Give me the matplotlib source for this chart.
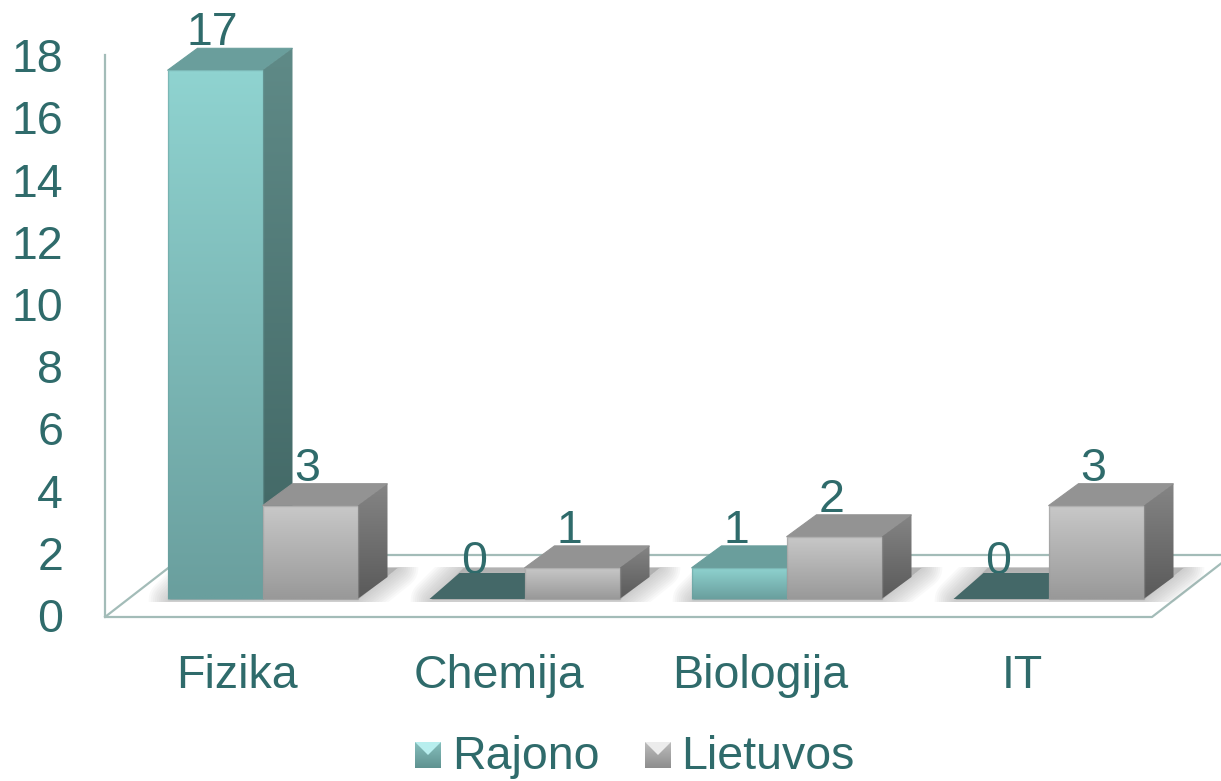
import numpy as np
import matplotlib
matplotlib.use('Agg')
import matplotlib.pyplot as plt
from matplotlib.patches import Polygon, Rectangle
from matplotlib.colors import to_rgb

plt.rcParams['font.family'] = ['Liberation Sans', 'DejaVu Sans']

kategorijos = ['Fizika', 'Chemija', 'Biologija', 'IT']
rajono = [17, 0, 1, 0]
lietuvos = [3, 1, 2, 3]
y_ticks = [0, 2, 4, 6, 8, 10, 12, 14, 16, 18]
serijos = ['Rajono', 'Lietuvos']

W, H = 1221, 781
TEXT = '#2f6b6b'
AXIS = '#a3bcb8'

# scale of the picture: one category = 262 px, one unit = 31.1 px
PX_X = 262.0
PX_Y = 31.1
X0 = 262.5   # px of first category centre
Y0 = 599.0   # px of value 0


def px(dx):
    return dx / PX_X


def py(dy):
    return dy / PX_Y


def X(p):
    return (p - X0) / PX_X


def Y(p):
    return (Y0 - p) / PX_Y


fig = plt.figure(figsize=(W / 100, H / 100), dpi=100)
ax = fig.add_axes([0, 0, 1, 1])
xlim = (X(0), X(W))
ylim = (Y(H), Y(0))
ax.axis('off')

BAR = px(95)
DX = px(30)
DY = py(22)

teal = dict(front=('#8fd3d0', '#6a9f9e'), side=('#5f8a87', '#3f6462'), top='#6a9e9c', zero='#446868',
            mark=('#86bfbd', '#5f9290'), light='#b8eeee')
gray = dict(front=('#c8c8c8', '#999999'), side=('#858585', '#5a5a5a'), top='#939393', zero='#808080',
            mark=('#bcbcbc', '#8e8e8e'), light='#ececec')


def grad(verts, c1, c2, z):
    # vertical gradient clipped to a polygon
    verts = np.array(verts)
    rgb = np.linspace(to_rgb(c1), to_rgb(c2), 64)[:, None, :]
    im = ax.imshow(rgb, aspect='auto', zorder=z, interpolation='bilinear',
                   extent=(verts[:, 0].min(), verts[:, 0].max(), verts[:, 1].min(), verts[:, 1].max()),
                   origin='upper')
    im.set_clip_path(Polygon(verts, closed=True, transform=ax.transData))


def bar3d(x, v, st, z):
    x1 = x + BAR
    if v == 0:
        d = py(26)
        ax.add_patch(Polygon([(x, 0), (x1, 0), (x1 + DX, d), (x + DX, d)], fc=st['zero'], ec='none', zorder=z))
        return
    ax.add_patch(Polygon([(x, v), (x1, v), (x1 + DX, v + DY), (x + DX, v + DY)],
                         fc=st['top'], ec=st['top'], lw=0.8, zorder=z))
    grad([(x1, 0), (x1 + DX, DY), (x1 + DX, v + DY), (x1, v)], st['side'][0], st['side'][1], z)
    grad([(x, 0), (x1, 0), (x1, v), (x, v)], st['front'][0], st['front'][1], z + 0.1)
    ax.add_patch(Rectangle((x, 0), BAR, v, fc='none', ec=st['front'][1], lw=1.0, alpha=0.5, zorder=z + 0.2))


# wall and floor lines
floor_y = Y(617)
back_y = Y(555)
ax.plot([X(105), X(105), X(1152), X(1232)], [Y(55), floor_y, floor_y, back_y], color=AXIS, lw=1.6, zorder=1)
ax.plot([X(105), X(185), X(1232)], [floor_y, back_y, back_y], color=AXIS, lw=1.6, zorder=1)

# soft shadow on the floor under each group of bars
clip_box = Rectangle((X(0), Y(602)), X(W) - X(0), py(35), transform=ax.transData)
for i in range(len(kategorijos)):
    left = i - BAR
    right = i + BAR
    sh = [(left + px(2), Y(600)), (right, Y(600)), (right + px(40), Y(568)), (left + px(34), Y(568))]
    for lw in np.arange(30, 0, -3):
        p = Polygon(sh, fc='#909090', ec='#909090', lw=lw, alpha=0.05, joinstyle='round', zorder=2)
        ax.add_patch(p)
        p.set_clip_path(clip_box)

# bars, value labels sit behind the bar tops
LBL = py(25)
for i in range(len(kategorijos)):
    bar3d(i - BAR, rajono[i], teal, 4 + i)
    bar3d(i, lietuvos[i], gray, 4.5 + i)
    ax.text(i - BAR / 2 - px(2.5), rajono[i] + LBL, str(rajono[i]), fontsize=33.5, color=TEXT,
            ha='center', va='baseline', zorder=3.5)
    ax.text(i + BAR / 2 - px(2.5), lietuvos[i] + LBL, str(lietuvos[i]), fontsize=33.5,
            color=TEXT, ha='center', va='baseline', zorder=3.5)

# tick labels
for t in y_ticks:
    ax.text(X(63), t + Y(615), str(t), fontsize=33.5, color=TEXT, ha='right', va='center_baseline')
for i, k in enumerate(kategorijos):
    ax.text(i + px(-26), Y(671), k, fontsize=33.5, color=TEXT, ha='center', va='center_baseline')


# legend
def marker(x0, st):
    x1, y0, y1 = x0 + px(26), Y(768), Y(742)
    xc, yc = (x0 + x1) / 2, (y0 + y1) / 2
    grad([(x0, y0), (x1, y0), (x1, y1), (x0, y1)], st['mark'][0], st['mark'][1], 6)
    ax.add_patch(Polygon([(x0, y1), (x1, y1), (xc, yc)], fc=st['light'], ec='none', zorder=7))


marker(X(415), teal)
marker(X(645), gray)
ax.text(X(452), Y(752), serijos[0], fontsize=33.5, color=TEXT, ha='left', va='center_baseline')
ax.text(X(681), Y(752), serijos[1], fontsize=33.5, color=TEXT, ha='left', va='center_baseline')

ax.set_xlim(xlim)
ax.set_ylim(ylim)
fig.savefig('out.png', dpi=100, facecolor='white')
